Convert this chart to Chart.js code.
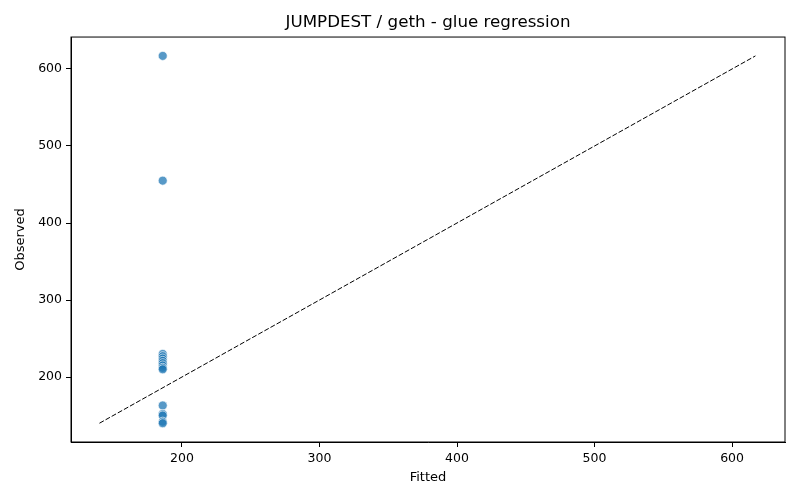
<!DOCTYPE html>
<html>
<head>
<meta charset="utf-8">
<script src="https://cdn.jsdelivr.net/npm/chart.js@4"></script>
<style>
  body { margin: 0; background: #fff; }
</style>
</head>
<body>
<canvas id="chart" width="800" height="500"></canvas>
<script>
const fitted = [186, 186, 186, 186, 186, 186, 186, 186, 186, 186, 186, 186, 186, 186, 186]
const observed = [617, 455, 230, 227, 224, 221, 218, 215, 212, 210, 163, 152, 150, 142, 140]
const xTicks = [200, 300, 400, 500, 600]
const yTicks = [200, 300, 400, 500, 600]

const lo = Math.min(...observed)
const hi = Math.max(...observed)

const points = fitted.map((f, i) => ({ x: f, y: observed[i] }))

// frame round the plot area, like matplotlib's spines
// and the title centred over the axes instead of the canvas
const frame = {
    id: 'frame',
    afterLayout(chart) {
        const a = chart.chartArea
        chart.titleBlock.left = a.left
        chart.titleBlock.right = a.right
    },
    afterDraw(chart) {
        const a = chart.chartArea
        const c = chart.ctx
        c.save()
        c.strokeStyle = '#000'
        c.lineWidth = 1
        c.strokeRect(a.left, a.top, a.right - a.left, a.bottom - a.top)
        c.restore()
    }
}

const font = 'DejaVu Sans'

new Chart(document.getElementById('chart').getContext('2d'), {
    type: 'scatter',
    data: {
        datasets: [{
            label: 'points',
            data: points,
            backgroundColor: 'rgba(31, 119, 180, 0.75)',
            borderColor: 'rgba(255, 255, 255, 0.8)',
            borderWidth: 0.8,
            pointRadius: 4.5,
            order: 2
        }, {
            type: 'line',
            label: 'y = x',
            data: [{ x: lo, y: lo }, { x: hi, y: hi }],
            borderColor: '#000',
            borderWidth: 1,
            borderDash: [5, 2],
            pointRadius: 0,
            fill: false,
            order: 1
        }]
    },
    options: {
        responsive: false,
        animation: false,
        devicePixelRatio: 1,
        layout: { padding: { top: 1, right: 15, bottom: 0, left: 0 } },
        plugins: {
            legend: { display: false },
            tooltip: { enabled: false },
            title: {
                display: true,
                text: 'JUMPDEST / geth - glue regression',
                color: '#000',
                font: { family: font, size: 16.7, weight: 'normal' },
                padding: { top: 12, bottom: 4 }
            }
        },
        scales: {
            x: {
                type: 'linear',
                min: 119.3,
                max: 638.5,
                afterBuildTicks: s => { s.ticks = xTicks.map(v => ({ value: v })) },
                afterFit: s => { s.height = 58 },
                ticks: { color: '#000', font: { family: font, size: 12.5 }, padding: 4 },
                grid: { drawOnChartArea: false, drawTicks: true, tickLength: 5, color: '#000' },
                border: { color: '#000' },
                title: { display: true, text: 'Fitted', color: '#000', font: { family: font, size: 13 }, padding: { bottom: 15 } }
            },
            y: {
                type: 'linear',
                min: 115.6,
                max: 641.5,
                afterBuildTicks: s => { s.ticks = yTicks.map(v => ({ value: v })) },
                afterFit: s => { s.width = 71 },
                ticks: { color: '#000', font: { family: font, size: 12.5 }, padding: 4 },
                grid: { drawOnChartArea: false, drawTicks: true, tickLength: 5, color: '#000' },
                border: { color: '#000' },
                title: { display: true, text: 'Observed', color: '#000', font: { family: font, size: 13 }, padding: { top: 13 } }
            }
        }
    },
    plugins: [frame]
})
</script>
</body>
</html>
